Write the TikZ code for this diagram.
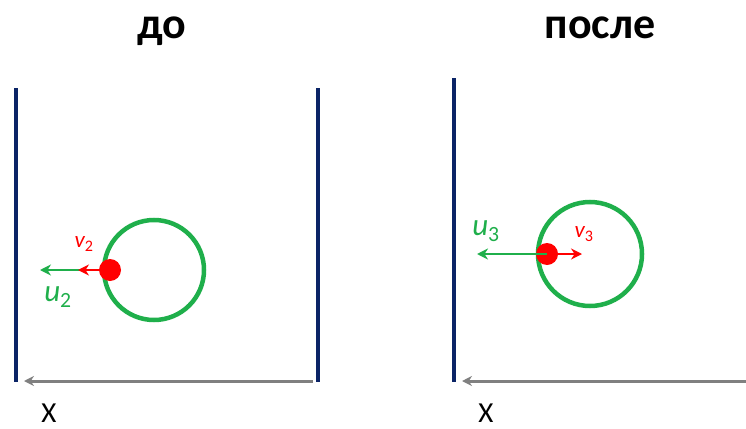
\documentclass[tikz,border=0pt]{standalone}
\usepackage{fontspec}
\setmainfont{Carlito}
\usetikzlibrary{arrows.meta}
\definecolor{wallc}{HTML}{0B2466}
\definecolor{grn}{HTML}{1FAF4B}
\definecolor{rd}{HTML}{FF0000}
\definecolor{axc}{HTML}{808080}
\tikzset{
  wall/.style={draw=wallc, line width=4.5pt},
  axis/.style={draw=axc, line width=3pt, -{Stealth[length=10pt,width=10pt]}},
  ring/.style={draw=grn, line width=4.5pt},
  ball/.style={circle, fill=rd, inner sep=0pt, minimum size=22pt},
  garrow/.style={draw=grn, line width=2.6pt, -{Stealth[length=11pt,width=11pt]}},
  rarrow/.style={draw=rd, line width=2.6pt, -{Stealth[length=11pt,width=11pt]}},
  title/.style={font=\fontsize{44}{50}\selectfont\bfseries, inner sep=0pt},
  glab/.style={text=grn, font=\fontsize{31}{36}\selectfont\itshape, inner sep=0pt},
  rlab/.style={text=rd, font=\fontsize{23}{27}\selectfont\itshape, inner sep=0pt},
  xlab/.style={font=\fontsize{29}{33}\selectfont, inner sep=0pt, anchor=base}
}
\begin{document}
\begin{tikzpicture}[x=1pt,y=-1pt]
\useasboundingbox (0,0) rectangle (746,428);
% titles
\node[title, anchor=base] (t1) at (162,38) {до};
\node[title, anchor=base] (t2) at (600,38) {после};
% left panel
\coordinate (lw1t) at (16,88); \coordinate (lw1b) at (16,382);
\coordinate (lw2t) at (318,88); \coordinate (lw2b) at (318,382);
\draw[wall] (lw1t) -- (lw1b);
\draw[wall] (lw2t) -- (lw2b);
\coordinate (ax1s) at (313,381); \coordinate (ax1e) at (24,381);
\draw[axis] (ax1s) -- (ax1e);
\node[xlab] (x1) at (49,422) {X};
\node[ring, circle, minimum size=100pt, inner sep=0pt] (c1) at (154,270) {};
\node[ball] (b1) at (110,270) {};
\coordinate (g1) at (40,270);
\coordinate (r1) at (78,270);
\draw[garrow] (b1.center) -- (g1);
\draw[rarrow] (b1.center) -- (r1);
\node[rlab] (v2) at (84,244) {v\textsubscript{\upshape 2}};
\node[glab] (u2) at (58,297) {u\textsubscript{\upshape 2}};
% right panel
\coordinate (rw1t) at (454,78); \coordinate (rw1b) at (454,382);
\draw[wall] (rw1t) -- (rw1b);
\coordinate (ax2s) at (746,381); \coordinate (ax2e) at (462,381);
\draw[axis] (ax2s) -- (ax2e);
\node[xlab] (x2) at (486,422) {X};
\node[ring, circle, minimum size=104pt, inner sep=0pt] (c2) at (590,254) {};
\node[ball] (b2) at (547,254) {};
\coordinate (g2) at (477,254);
\coordinate (r2) at (582,254);
\draw[garrow] (b2.center) -- (g2);
\draw[rarrow] (b2.center) -- (r2);
\node[glab] (u3) at (486,231) {u\textsubscript{\upshape 3}};
\node[rlab] (v3) at (584,234) {v\textsubscript{\upshape 3}};
\end{tikzpicture}
\end{document}
